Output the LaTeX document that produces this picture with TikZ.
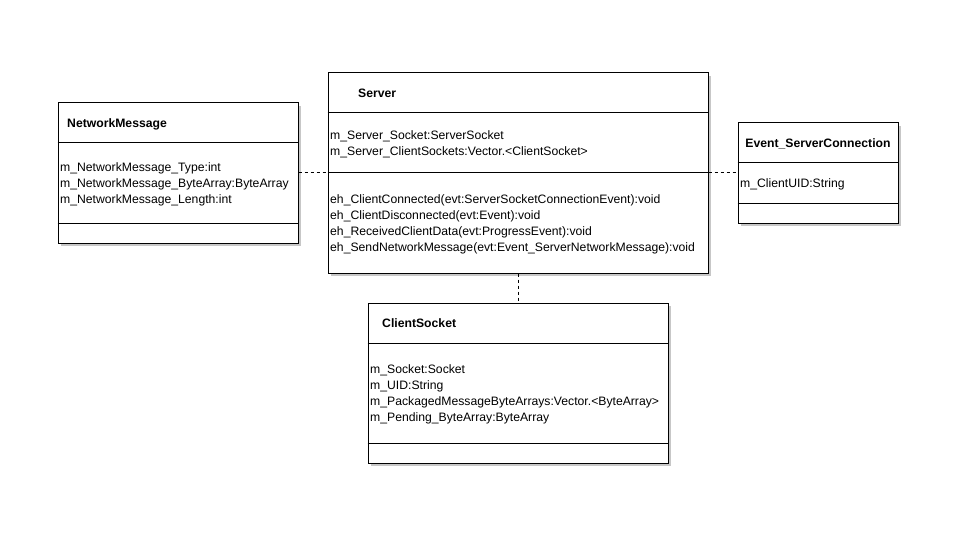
\documentclass[tikz,border=0pt]{standalone}
\usepackage{fontspec}
\setmainfont{Liberation Sans}
\usepackage{tikz}
\usetikzlibrary{shadows}

\begin{document}
\begin{tikzpicture}[
    x=1pt, y=-1pt,
    classbox/.style={draw, line width=1pt, fill=white, inner sep=0pt,
      drop shadow={shadow xshift=3pt, shadow yshift=-3pt, fill=black!22, opacity=1}},
    divider/.style={line width=1pt},
    link/.style={line width=1pt, dash pattern=on 3pt off 3pt},
    title/.style={anchor=base west, inner sep=0pt, font=\fontsize{12.2}{14}\selectfont\bfseries},
    member/.style={anchor=base west, inner sep=0pt, font=\fontsize{12.2}{14}\selectfont},
  ]
    \useasboundingbox (0,0) rectangle (960,540);

    % Boxes
    \node[classbox, minimum width=240pt, minimum height=140pt] (nm) at (178,173) {};
    \node[classbox, minimum width=380pt, minimum height=200pt] (srv) at (518,173) {};
    \node[classbox, minimum width=160pt, minimum height=100pt] (evt) at (818,173) {};
    \node[classbox, minimum width=300pt, minimum height=160pt] (cs) at (518,383) {};

    % Compartments
    \draw[divider] (nm.west |- 0,143) -- (nm.east |- 0,143);
    \draw[divider] (nm.west |- 0,223) -- (nm.east |- 0,223);
    \draw[divider] (srv.west |- 0,113) -- (srv.east |- 0,113);
    \draw[divider] (srv.west |- 0,173) -- (srv.east |- 0,173);
    \draw[divider] (evt.west |- 0,163) -- (evt.east |- 0,163);
    \draw[divider] (evt.west |- 0,203) -- (evt.east |- 0,203);
    \draw[divider] (cs.west |- 0,343) -- (cs.east |- 0,343);
    \draw[divider] (cs.west |- 0,443) -- (cs.east |- 0,443);

    % Titles
    \node[title] (nmtitle) at (67,127.5) {NetworkMessage};
    \node[title] (srvtitle) at (358,97.5) {Server};
    \node[title, anchor=base] (evttitle) at (818,147.5) {Event\_ServerConnection};
    \node[title] (cstitle) at (382,327.5) {ClientSocket};

    % Members
    \foreach \txt [count=\i] in {m\_NetworkMessage\_Type:int,
        m\_NetworkMessage\_ByteArray:ByteArray, m\_NetworkMessage\_Length:int} {
      \node[member] (nma\i) at (60,155.5+16*\i) {\txt};
    }
    \foreach \txt [count=\i] in {m\_Server\_Socket:ServerSocket,
        m\_Server\_ClientSockets:Vector.<ClientSocket>} {
      \node[member] (srva\i) at (330,123.5+16*\i) {\txt};
    }
    \foreach \txt [count=\i] in {eh\_ClientConnected(evt:ServerSocketConnectionEvent):void,
        eh\_ClientDisconnected(evt:Event):void,
        eh\_ReceivedClientData(evt:ProgressEvent):void,
        eh\_SendNetworkMessage(evt:Event\_ServerNetworkMessage):void} {
      \node[member] (srvm\i) at (330,187.5+16*\i) {\txt};
    }
    \node[member] (evta1) at (740,187.5) {m\_ClientUID:String};
    \foreach \txt [count=\i] in {m\_Socket:Socket, m\_UID:String,
        m\_PackagedMessageByteArrays:Vector.<ByteArray>,
        m\_Pending\_ByteArray:ByteArray} {
      \node[member] (csa\i) at (370,357.5+16*\i) {\txt};
    }

    % Links
    \draw[link] (nm.east) -- (srv.west);
    \draw[link] (srv.east) -- (evt.west);
    \draw[link] (srv.south) -- (cs.north);
  \end{tikzpicture}
\end{document}
